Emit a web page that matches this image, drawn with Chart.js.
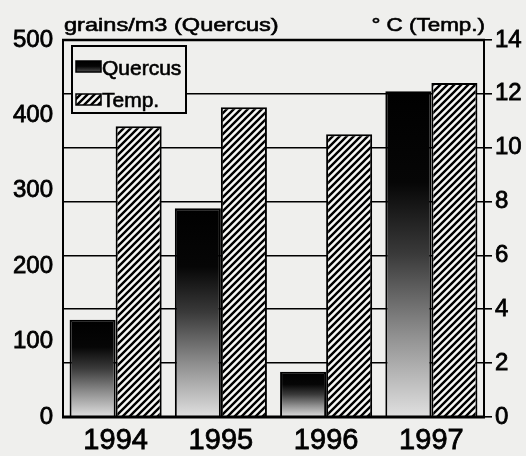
<!DOCTYPE html>
<html>
<head>
<meta charset="utf-8">
<script src="https://cdn.jsdelivr.net/npm/chart.js@4.4.1/dist/chart.umd.min.js"></script>
<style>
  html, body { margin: 0; padding: 0; background: #efefed; }
  #wrap { width: 526px; height: 456px; }
</style>
</head>
<body>
<div id="wrap"><canvas id="pollenChart" width="526" height="456"></canvas></div>
<script>
const years = ['1994', '1995', '1996', '1997'];
const quercus = [129, 277, 60, 432];     // grains/m3
const temp = [10.8, 11.5, 10.5, 12.4];   // deg C
const leftMax = 500;
const rightMax = 14;

const FONT = '"Liberation Sans", Arial, Helvetica, sans-serif';
const PAPER = '#efefed';

// diagonal hatch for the temperature bars
function makeHatch() {
  const s = 7;
  const p = document.createElement('canvas');
  p.width = s; p.height = s;
  const c = p.getContext('2d');
  c.fillStyle = '#f7f7f5';
  c.fillRect(0, 0, s, s);
  c.strokeStyle = '#000';
  c.lineWidth = 2.4;
  c.beginPath();
  c.moveTo(-1, s + 1); c.lineTo(s + 1, -1);
  c.moveTo(-2, 2); c.lineTo(2, -2);
  c.moveTo(s - 2, s + 2); c.lineTo(s + 2, s - 2);
  c.stroke();
  return c.createPattern(p, 'repeat');
}

function shade(ctx2d, yTop, yBot) {
  const g = ctx2d.createLinearGradient(0, yTop, 0, yBot);
  g.addColorStop(0, '#000');
  g.addColorStop(0.28, '#060606');
  g.addColorStop(0.5, '#3a3a3a');
  g.addColorStop(0.75, '#909090');
  g.addColorStop(1, '#e0e0e0');
  return g;
}

// black-to-light fill for the Quercus bars
function quercusFill(context) {
  const chart = context.chart;
  if (!chart.chartArea || context.type !== 'data') return '#000';
  const y = chart.scales.y;
  return shade(chart.ctx, y.getPixelForValue(quercus[context.dataIndex]), y.getPixelForValue(0));
}

function boldText(ctx, txt, x, y) {
  ctx.fillText(txt, x, y);
  ctx.strokeText(txt, x, y);
}

let hatch = null;

const decor = {
  id: 'decor',
  afterDatasetsDraw(chart) {
    const { ctx, chartArea: a } = chart;
    ctx.save();
    ctx.strokeStyle = '#000';
    ctx.lineWidth = 2;
    ctx.beginPath();
    ctx.moveTo(a.left, a.top); ctx.lineTo(a.left, a.bottom);
    ctx.moveTo(a.right, a.top); ctx.lineTo(a.right, a.bottom);
    ctx.stroke();
    ctx.lineWidth = 2.5;
    ctx.beginPath();
    ctx.moveTo(a.left - 1, a.top); ctx.lineTo(a.right + 1, a.top);
    ctx.stroke();
    ctx.lineWidth = 3;
    ctx.beginPath();
    ctx.moveTo(a.left - 1, a.bottom); ctx.lineTo(a.right + 1, a.bottom);
    ctx.stroke();
    ctx.restore();
  },
  afterDraw(chart) {
    const ctx = chart.ctx;
    ctx.save();
    ctx.fillStyle = '#000';
    ctx.strokeStyle = '#000';
    ctx.lineWidth = 0.6;
    ctx.textBaseline = 'alphabetic';

    // axis titles
    ctx.font = '19px ' + FONT;
    ctx.save();
    ctx.translate(64, 31);
    ctx.scale(1.24, 1);
    boldText(ctx, 'grains/m3 (Quercus)', 0, 0);
    ctx.restore();
    ctx.save();
    ctx.translate(485, 31);
    ctx.scale(1.18, 1);
    ctx.textAlign = 'right';
    boldText(ctx, '° C (Temp.)', 0, 0);
    ctx.restore();

    // legend box
    const bx = 72, by = 46, bw = 114, bh = 67;
    ctx.fillStyle = PAPER;
    ctx.fillRect(bx, by, bw, bh);
    ctx.lineWidth = 2;
    ctx.strokeRect(bx, by, bw, bh);

    ctx.fillStyle = shade(ctx, 61, 80);
    ctx.fillRect(76, 61, 25, 11);
    ctx.lineWidth = 1.5;
    ctx.strokeRect(76, 61, 25, 11);

    ctx.fillStyle = hatch;
    ctx.fillRect(76, 94, 25, 11);
    ctx.strokeRect(76, 94, 25, 11);

    ctx.fillStyle = '#000';
    ctx.lineWidth = 0.6;
    ctx.font = '21px ' + FONT;
    boldText(ctx, 'Quercus', 102, 75);
    boldText(ctx, 'Temp.', 102, 107);
    ctx.restore();
  }
};

hatch = makeHatch();

new Chart(document.getElementById('pollenChart'), {
  type: 'bar',
  data: {
    labels: years,
    datasets: [
      {
        label: 'Quercus',
        data: quercus,
        yAxisID: 'y',
        backgroundColor: quercusFill,
        borderColor: '#000',
        borderWidth: 2,
        borderSkipped: 'bottom'
      },
      {
        label: 'Temp.',
        data: temp,
        yAxisID: 'y2',
        backgroundColor: hatch,
        borderColor: '#000',
        borderWidth: 2,
        borderSkipped: 'bottom'
      }
    ]
  },
  options: {
    responsive: false,
    animation: false,
    datasets: { bar: { categoryPercentage: 0.875, barPercentage: 1.0 } },
    layout: { padding: { top: 40, left: 0, right: 0, bottom: 0 } },
    plugins: { legend: { display: false }, tooltip: { enabled: false } },
    scales: {
      x: {
        grid: { display: false, drawTicks: false },
        border: { display: false },
        ticks: { color: '#000', font: { family: FONT, size: 29 }, padding: 7,
                 textStrokeColor: '#000', textStrokeWidth: 0.8 },
        afterFit(s) { s.height = 39; }
      },
      y: {
        position: 'left',
        min: 0,
        max: leftMax,
        grid: { display: false, drawTicks: false },
        border: { display: false },
        ticks: { stepSize: 100, color: '#000', font: { family: FONT, size: 24 }, padding: 10,
                 textStrokeColor: '#000', textStrokeWidth: 0.8 },
        afterFit(s) { s.width = 63; }
      },
      y2: {
        position: 'right',
        min: 0,
        max: rightMax,
        grid: { color: '#000', lineWidth: 1.6, tickLength: 8, drawTicks: true },
        border: { display: false },
        ticks: { stepSize: 2, color: '#000', font: { family: FONT, size: 24 }, padding: 3,
                 textStrokeColor: '#000', textStrokeWidth: 0.8 },
        afterFit(s) { s.width = 42; }
      }
    }
  },
  plugins: [decor]
});
</script>
</body>
</html>
